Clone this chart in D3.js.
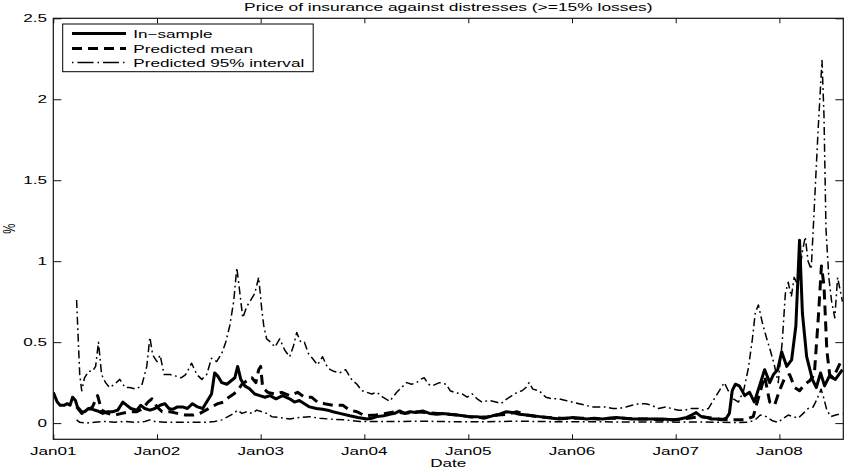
<!DOCTYPE html>
<html>
<head>
<meta charset="utf-8">
<script src="https://cdn.jsdelivr.net/npm/d3@7"></script>
<style>
html,body{margin:0;padding:0;background:#fff;}
svg{display:block;}
text{font-family:"Liberation Sans",Arial,Helvetica,sans-serif;fill:#000;}
</style>
</head>
<body>
<svg id="chart" width="845" height="469"></svg>
<script>
const titleText = "Price of insurance against distresses (>=15% losses)";
const xLabel = "Date";
const yLabel = "%";
const seriesNames = ["In\u2212sample", "Predicted mean", "Predicted 95% interval"];
const xTickDates = ["2001-01-01","2002-01-01","2003-01-01","2004-01-01","2005-01-01","2006-01-01","2007-01-01","2008-01-01"];
const xTickLabels = ["Jan01","Jan02","Jan03","Jan04","Jan05","Jan06","Jan07","Jan08"];
const yTicks = [0, 0.5, 1, 1.5, 2, 2.5];
const yTickLabels = ["0","0.5","1","1.5","2","2.5"];
const xDomain = ["2001-01-01","2008-08-13"];
const yDomain = [-0.1, 2.5];

const inSampleDates = ["2001-01-01","2001-01-15","2001-01-25","2001-02-08","2001-02-19","2001-03-01","2001-03-10","2001-03-20","2001-03-27","2001-04-11","2001-04-21","2001-05-05","2001-05-19","2001-06-06","2001-06-24","2001-07-11","2001-07-29","2001-08-16","2001-09-03","2001-09-17","2001-10-01","2001-10-22","2001-11-05","2001-11-19","2001-12-07","2001-12-25","2002-01-12","2002-01-29","2002-02-12","2002-02-25","2002-03-14","2002-04-01","2002-04-18","2002-05-06","2002-05-24","2002-06-11","2002-06-28","2002-07-12","2002-07-23","2002-08-03","2002-08-17","2002-09-04","2002-09-18","2002-10-02","2002-10-12","2002-10-23","2002-11-06","2002-11-24","2002-12-11","2002-12-29","2003-01-16","2003-02-03","2003-02-24","2003-03-19","2003-04-13","2003-04-30","2003-05-17","2003-06-04","2003-06-22","2003-07-16","2003-08-07","2003-08-25","2003-09-12","2003-10-06","2003-11-11","2003-12-09","2004-01-10","2004-01-27","2004-02-14","2004-03-09","2004-03-30","2004-04-17","2004-05-04","2004-05-22","2004-06-09","2004-06-30","2004-07-24","2004-08-18","2004-09-12","2004-10-03","2004-10-28","2004-11-22","2004-12-13","2005-01-07","2005-02-01","2005-02-24","2005-03-27","2005-04-21","2005-05-15","2005-06-06","2005-06-30","2005-07-25","2005-08-15","2005-09-09","2005-10-03","2005-10-25","2005-11-19","2005-12-13","2006-01-04","2006-01-29","2006-02-22","2006-03-20","2006-04-18","2006-05-12","2006-06-06","2006-07-04","2006-08-02","2006-09-07","2006-10-11","2006-11-16","2006-12-21","2007-01-15","2007-02-09","2007-02-26","2007-03-14","2007-04-01","2007-04-19","2007-05-06","2007-05-24","2007-06-11","2007-06-28","2007-07-09","2007-07-19","2007-07-30","2007-08-13","2007-09-01","2007-09-18","2007-10-05","2007-10-23","2007-11-10","2007-11-28","2007-12-11","2007-12-26","2008-01-09","2008-01-27","2008-02-13","2008-02-28","2008-03-12","2008-03-22","2008-04-06","2008-04-26","2008-05-10","2008-05-25","2008-06-08","2008-06-25","2008-07-16","2008-08-10"];
const inSampleValues = [0.19,0.13,0.11,0.11,0.12,0.11,0.16,0.14,0.10,0.07,0.07,0.09,0.085,0.075,0.06,0.07,0.07,0.08,0.13,0.11,0.09,0.08,0.11,0.09,0.08,0.09,0.11,0.12,0.09,0.085,0.10,0.10,0.09,0.12,0.10,0.09,0.14,0.18,0.31,0.29,0.25,0.24,0.26,0.28,0.35,0.27,0.23,0.21,0.18,0.17,0.16,0.17,0.15,0.17,0.15,0.13,0.14,0.12,0.10,0.09,0.085,0.08,0.07,0.06,0.045,0.035,0.025,0.03,0.04,0.045,0.055,0.06,0.075,0.06,0.07,0.065,0.075,0.06,0.055,0.06,0.055,0.05,0.045,0.04,0.04,0.03,0.045,0.055,0.07,0.065,0.055,0.05,0.045,0.04,0.035,0.03,0.025,0.03,0.035,0.03,0.025,0.03,0.025,0.03,0.035,0.03,0.025,0.025,0.025,0.025,0.02,0.025,0.035,0.05,0.065,0.04,0.035,0.025,0.025,0.02,0.03,0.06,0.20,0.24,0.23,0.17,0.19,0.13,0.23,0.33,0.25,0.30,0.33,0.44,0.35,0.39,0.60,1.13,0.68,0.41,0.27,0.22,0.31,0.23,0.29,0.27,0.33];

const meanDates = ["2001-03-24","2001-04-11","2001-05-02","2001-05-19","2001-06-06","2001-06-20","2001-07-11","2001-08-05","2001-08-30","2001-09-27","2001-10-22","2001-11-12","2001-11-30","2001-12-14","2002-01-01","2002-01-19","2002-02-16","2002-03-14","2002-04-12","2002-05-10","2002-06-01","2002-06-22","2002-07-12","2002-08-03","2002-08-24","2002-09-11","2002-09-28","2002-10-12","2002-10-27","2002-11-13","2002-12-01","2002-12-15","2002-12-25","2003-01-01","2003-01-08","2003-01-26","2003-02-20","2003-03-16","2003-04-13","2003-05-11","2003-06-04","2003-06-29","2003-07-20","2003-08-14","2003-09-12","2003-10-17","2003-11-11","2003-12-06","2004-01-03","2004-02-10","2004-03-15","2004-04-20","2004-05-25","2004-07-01","2004-08-10","2004-09-15","2004-10-20","2004-11-25","2005-01-01","2005-02-05","2005-03-10","2005-04-15","2005-05-20","2005-06-20","2005-07-25","2005-09-01","2005-10-10","2005-11-20","2006-01-01","2006-02-15","2006-04-01","2006-05-15","2006-07-01","2006-08-15","2006-10-01","2006-11-15","2007-01-01","2007-02-15","2007-04-01","2007-05-15","2007-07-01","2007-08-01","2007-09-01","2007-10-01","2007-10-23","2007-11-10","2007-11-28","2007-12-15","2008-01-01","2008-01-20","2008-02-06","2008-02-24","2008-03-12","2008-03-30","2008-04-16","2008-05-03","2008-05-17","2008-05-28","2008-06-06","2008-06-16","2008-06-26","2008-07-08","2008-07-22","2008-08-10"];
const meanValues = [0.10,0.06,0.08,0.10,0.17,0.08,0.06,0.05,0.06,0.07,0.07,0.09,0.13,0.15,0.10,0.07,0.07,0.06,0.05,0.05,0.06,0.08,0.10,0.12,0.13,0.16,0.18,0.20,0.24,0.26,0.28,0.25,0.33,0.35,0.22,0.19,0.18,0.19,0.17,0.19,0.16,0.16,0.13,0.12,0.11,0.11,0.08,0.07,0.045,0.05,0.06,0.07,0.06,0.07,0.065,0.06,0.055,0.05,0.04,0.035,0.04,0.05,0.055,0.07,0.05,0.04,0.035,0.03,0.03,0.03,0.025,0.03,0.03,0.025,0.025,0.02,0.02,0.03,0.04,0.03,0.02,0.02,0.02,0.04,0.18,0.29,0.13,0.11,0.20,0.28,0.30,0.22,0.20,0.24,0.26,0.30,0.65,0.97,0.85,0.45,0.30,0.28,0.33,0.40];

const upperDates = ["2001-03-24","2001-04-04","2001-04-11","2001-04-21","2001-05-05","2001-05-19","2001-05-30","2001-06-09","2001-06-20","2001-07-04","2001-07-18","2001-08-05","2001-08-23","2001-09-10","2001-09-27","2001-10-18","2001-11-08","2001-11-26","2001-12-07","2001-12-17","2002-01-01","2002-01-12","2002-01-26","2002-02-16","2002-03-09","2002-03-27","2002-04-12","2002-05-03","2002-05-21","2002-06-08","2002-06-25","2002-07-12","2002-07-30","2002-08-17","2002-08-31","2002-09-14","2002-09-28","2002-10-09","2002-10-20","2002-10-30","2002-11-13","2002-11-27","2002-12-11","2002-12-25","2003-01-05","2003-01-12","2003-01-22","2003-02-05","2003-02-20","2003-03-09","2003-03-27","2003-04-13","2003-04-27","2003-05-08","2003-05-22","2003-06-04","2003-06-18","2003-07-02","2003-07-20","2003-08-07","2003-08-25","2003-09-15","2003-10-06","2003-10-27","2003-11-17","2003-12-06","2003-12-23","2004-01-10","2004-01-27","2004-02-14","2004-03-06","2004-03-30","2004-04-24","2004-05-11","2004-05-29","2004-06-15","2004-07-03","2004-07-16","2004-07-30","2004-08-13","2004-08-27","2004-09-21","2004-10-15","2004-10-29","2004-11-12","2004-12-10","2004-12-28","2005-01-15","2005-02-01","2005-02-18","2005-03-15","2005-04-08","2005-04-26","2005-05-17","2005-06-04","2005-06-22","2005-07-09","2005-07-23","2005-08-03","2005-08-16","2005-09-07","2005-10-01","2005-10-22","2005-11-16","2005-12-10","2006-01-01","2006-01-26","2006-02-19","2006-03-12","2006-04-06","2006-04-30","2006-05-25","2006-06-15","2006-07-10","2006-07-31","2006-08-24","2006-09-17","2006-10-08","2006-11-02","2006-11-26","2006-12-17","2007-01-11","2007-02-01","2007-02-25","2007-03-22","2007-04-08","2007-04-26","2007-05-10","2007-05-24","2007-06-07","2007-06-21","2007-07-05","2007-07-23","2007-08-10","2007-08-28","2007-09-14","2007-09-28","2007-10-08","2007-10-19","2007-11-02","2007-11-16","2007-11-30","2007-12-14","2007-12-28","2008-01-11","2008-01-22","2008-02-01","2008-02-12","2008-02-22","2008-03-07","2008-03-21","2008-04-01","2008-04-11","2008-04-22","2008-05-02","2008-05-16","2008-05-30","2008-06-06","2008-06-13","2008-06-23","2008-07-03","2008-07-14","2008-07-24","2008-08-10"];
const upperValues = [0.76,0.30,0.20,0.28,0.32,0.32,0.35,0.50,0.30,0.25,0.22,0.24,0.27,0.22,0.22,0.21,0.23,0.35,0.53,0.42,0.38,0.42,0.30,0.30,0.29,0.28,0.30,0.37,0.30,0.27,0.30,0.40,0.38,0.43,0.50,0.60,0.75,0.96,0.80,0.65,0.72,0.76,0.80,0.90,0.70,0.60,0.52,0.50,0.47,0.52,0.45,0.41,0.48,0.56,0.50,0.50,0.43,0.40,0.36,0.41,0.34,0.32,0.31,0.33,0.27,0.24,0.20,0.19,0.18,0.19,0.16,0.135,0.19,0.22,0.25,0.24,0.25,0.27,0.28,0.24,0.23,0.25,0.24,0.20,0.19,0.18,0.16,0.18,0.15,0.13,0.14,0.13,0.12,0.15,0.17,0.19,0.20,0.22,0.25,0.21,0.20,0.16,0.15,0.15,0.14,0.13,0.12,0.11,0.10,0.10,0.10,0.09,0.09,0.10,0.11,0.12,0.12,0.11,0.09,0.10,0.09,0.08,0.08,0.09,0.09,0.08,0.09,0.13,0.17,0.21,0.25,0.20,0.15,0.13,0.20,0.34,0.52,0.68,0.73,0.62,0.53,0.45,0.36,0.25,0.50,0.80,0.87,0.78,0.90,0.85,1.05,1.15,1.00,0.95,1.30,1.80,2.24,1.90,1.20,0.90,0.75,0.65,0.90,0.75];

const lowerDates = ["2001-03-24","2001-04-04","2001-04-25","2001-05-26","2001-06-30","2001-08-05","2001-09-10","2001-10-15","2001-11-19","2001-12-07","2001-12-25","2002-01-29","2002-03-05","2002-04-08","2002-05-13","2002-06-18","2002-07-23","2002-08-17","2002-09-08","2002-09-28","2002-10-12","2002-10-27","2002-11-13","2002-12-01","2002-12-18","2003-01-05","2003-01-22","2003-02-09","2003-03-09","2003-04-13","2003-05-17","2003-06-22","2003-07-28","2003-09-01","2003-10-24","2003-12-16","2004-02-24","2004-05-04","2004-07-14","2004-09-21","2004-12-02","2005-02-11","2005-04-21","2005-06-30","2005-09-07","2005-11-16","2006-01-26","2006-04-06","2006-06-15","2006-08-24","2006-11-02","2007-01-11","2007-03-22","2007-05-31","2007-08-10","2007-09-14","2007-10-08","2007-10-26","2007-11-16","2007-12-07","2007-12-28","2008-01-15","2008-02-01","2008-02-19","2008-03-07","2008-03-25","2008-04-11","2008-04-29","2008-05-13","2008-05-27","2008-06-06","2008-06-16","2008-06-30","2008-07-17","2008-08-10"];
const lowerValues = [0.02,0.005,0.0,0.005,0.01,0.005,0.01,0.005,0.01,0.02,0.01,0.005,0.005,0.005,0.005,0.005,0.01,0.02,0.04,0.06,0.08,0.06,0.07,0.06,0.08,0.07,0.06,0.04,0.035,0.025,0.035,0.04,0.03,0.025,0.02,0.01,0.01,0.01,0.012,0.01,0.008,0.008,0.01,0.012,0.01,0.008,0.008,0.008,0.007,0.007,0.007,0.006,0.007,0.005,0.003,0.005,0.02,0.05,0.04,0.015,0.005,0.03,0.05,0.04,0.03,0.06,0.09,0.10,0.15,0.21,0.15,0.08,0.04,0.05,0.06];

const parse = d3.utcParse("%Y-%m-%d");
const svg = d3.select("#chart");
const PL = 53.3, PR = 843.3, PT = 18.3, PB = 439.3;
const SX = 1.5, FS = 11.4;

const x = d3.scaleUtc().domain(xDomain.map(parse)).range([PL, PR]);
const y = d3.scaleLinear().domain(yDomain).range([PB, PT]);

function zip(ds, vs){ return ds.map((d,i)=>({date: parse(d), value: vs[i]})); }
const line = d3.line().x(d=>x(d.date)).y(d=>y(d.value)).curve(d3.curveLinear);

svg.append("defs").append("clipPath").attr("id","clip")
  .append("rect").attr("x",PL).attr("y",PT).attr("width",PR-PL).attr("height",PB-PT);
const lines = svg.append("g").attr("clip-path","url(#clip)");

const styles = {
  solid: {w:3, dash:null},
  dashed: {w:3, dash:"10,6"},
  dashdot: {w:1.5, dash:"8,3.5,1.8,3.5"}
};
function draw(data, st){
  lines.append("path").datum(data).attr("fill","none").attr("stroke","#000")
    .attr("stroke-width",st.w).attr("stroke-linejoin","round")
    .attr("stroke-dasharray",st.dash).attr("d",line);
}
draw(zip(inSampleDates,inSampleValues), styles.solid);
draw(zip(meanDates,meanValues), styles.dashed);
draw(zip(upperDates,upperValues), styles.dashdot);
draw(zip(lowerDates,lowerValues), styles.dashdot);

const axisCol = "#111";
svg.append("rect").attr("x",PL).attr("y",PT).attr("width",PR-PL).attr("height",PB-PT)
  .attr("fill","none").attr("stroke",axisCol).attr("stroke-width",1.2);

const xt = xTickDates.map(parse);
function styleAxis(g){ g.select(".domain").remove(); g.selectAll("line").attr("stroke",axisCol); }
svg.append("g").attr("transform",`translate(0,${PB})`)
  .call(d3.axisBottom(x).tickValues(xt).tickSizeInner(-5).tickSizeOuter(0).tickFormat("")).call(styleAxis);
svg.append("g").attr("transform",`translate(0,${PT})`)
  .call(d3.axisTop(x).tickValues(xt).tickSizeInner(-5).tickSizeOuter(0).tickFormat("")).call(styleAxis);
svg.append("g").attr("transform",`translate(${PL},0)`)
  .call(d3.axisLeft(y).tickValues(yTicks).tickSizeInner(-8).tickSizeOuter(0).tickFormat("")).call(styleAxis);
svg.append("g").attr("transform",`translate(${PR},0)`)
  .call(d3.axisRight(y).tickValues(yTicks).tickSizeInner(-8).tickSizeOuter(0).tickFormat("")).call(styleAxis);

function label(txt, tx, ty, anchor, size){
  svg.append("text").attr("transform",`translate(${tx},${ty}) scale(${SX},1)`)
    .attr("text-anchor",anchor).attr("font-size",size||FS).text(txt);
}
xt.forEach((d,i)=>label(xTickLabels[i], x(d), 455, "middle"));
yTicks.forEach((v,i)=>label(yTickLabels[i], 47, y(v)+4, "end"));
label(titleText, (PL+PR)/2, 10.5, "middle", 11.6);
label(xLabel, (PL+PR)/2, 467, "middle");
svg.append("text").attr("transform",`translate(15,${(PT+PB)/2}) rotate(-90) scale(1,${SX})`)
  .attr("text-anchor","middle").attr("font-size",FS).text(yLabel);

const lg = svg.append("g");
lg.append("rect").attr("x",62.7).attr("y",24).attr("width",250.5).attr("height",47.7)
  .attr("fill","#fff").attr("stroke","#000").attr("stroke-width",1);
const legStyles = [styles.solid, styles.dashed, styles.dashdot];
const rowY = [33.5, 48.5, 62.5];
seriesNames.forEach((n,i)=>{
  lg.append("line").attr("x1",72).attr("x2",126).attr("y1",rowY[i]).attr("y2",rowY[i])
    .attr("stroke","#000").attr("stroke-width",legStyles[i].w)
    .attr("stroke-dasharray", i===2 ? "1.5,4,16,4" : legStyles[i].dash);
  lg.append("text").attr("transform",`translate(133.3,${rowY[i]+4.2}) scale(${SX},1)`)
    .attr("font-size",FS).text(n);
});
</script>
</body>
</html>
